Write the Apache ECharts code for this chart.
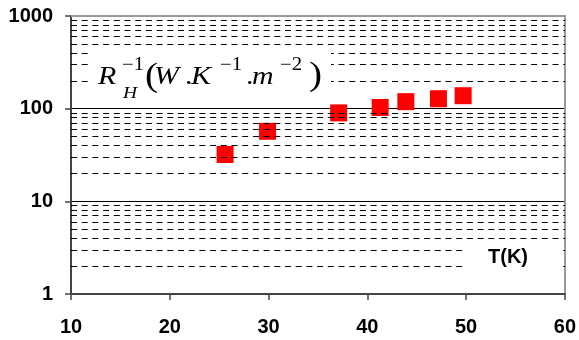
<!DOCTYPE html>
<html>
<head>
<meta charset="utf-8">
<script src="https://cdn.jsdelivr.net/npm/echarts@6/dist/echarts.min.js"></script>
<style>
html, body { margin: 0; padding: 0; background: #fff; }
#chart { width: 579px; height: 340px; }
</style>
</head>
<body>
<div id="chart"></div>
<script>
// data
var temps = [25.6, 29.9, 37.1, 41.3, 43.9, 47.2, 49.7];
var invR = [32, 57, 90, 103, 119, 128, 138];
var yTicks = ['1', '10', '100', '1000'];
var xTicks = ['10', '20', '30', '40', '50', '60'];
var minorVals = [2, 3, 4, 5, 6, 7, 8, 9, 20, 30, 40, 50, 60, 70, 80, 90, 200, 300, 400, 500, 600, 700, 800, 900];

var myChart = echarts.init(document.getElementById('chart'));

var sansB = '"Liberation Sans", Arial, sans-serif';
var serif = '"Times New Roman", "Liberation Serif", serif';

// pieces of the unit label: text, left x, baseline y, size, italic
var eq = [
    ['R', 98, 86, 26, true],
    ['\u22121', 122, 71, 18, false],
    ['H', 123, 99, 17, true],
    ['(', 145, 89, 34, false],
    ['W', 154, 86, 26, true],
    ['.', 185, 86, 26, false],
    ['K', 191, 86, 26, true],
    ['\u22121', 220, 71, 18, false],
    ['.', 246, 86, 26, false],
    ['m', 252, 86, 26, true],
    ['\u22122', 280, 71, 18, false],
    [')', 309, 88, 34, false]
];

var graphics = [
    { type: 'rect', z: 100, shape: { x: 92, y: 47, width: 239, height: 57 }, style: { fill: '#fff' } },
    { type: 'rect', z: 100, shape: { x: 463, y: 243, width: 98, height: 30 }, style: { fill: '#fff' } },
    { type: 'text', z: 101, x: 508, y: 257,
      style: { text: 'T(K)', font: 'bold 20px ' + sansB, fill: '#000', align: 'center', verticalAlign: 'middle' } }
];
eq.forEach(function (p) {
    graphics.push({
        type: 'text', z: 101, x: p[1], y: p[2] - 0.3375 * p[3], scaleX: 1.15,
        style: {
            text: p[0],
            font: (p[4] ? 'italic ' : '') + p[3] + 'px ' + serif,
            fill: '#000', align: 'left', verticalAlign: 'middle'
        }
    });
});

var option = {
    animation: false,
    grid: { left: 71, right: 13, top: 16, bottom: 46 },
    xAxis: [{
        type: 'value', min: 10, max: 60, interval: 10,
        axisLine: { lineStyle: { color: '#444', width: 2 } },
        axisTick: { length: 6, lineStyle: { color: '#444', width: 1.5 } },
        axisLabel: {
            margin: 23, color: '#000', fontSize: 20, fontWeight: 'bold', fontFamily: sansB,
            formatter: function (v) { return xTicks[Math.round((v - 10) / 10)]; }
        },
        splitLine: { show: false }
    }, {
        type: 'value', min: 10, max: 60, position: 'top',
        axisLine: { show: true, lineStyle: { color: '#999', width: 2 } },
        axisTick: { show: false }, axisLabel: { show: false }, splitLine: { show: false }
    }],
    yAxis: [{
        type: 'log', logBase: 10, min: 1, max: 1000,
        axisLine: { lineStyle: { color: '#444', width: 2 } },
        axisTick: { show: true, length: 6, lineStyle: { color: '#444', width: 1.5 } },
        axisLabel: {
            margin: 18, color: '#000', fontSize: 20, fontWeight: 'bold', fontFamily: sansB,
            formatter: function (v) { return yTicks[Math.round(Math.log10(v))]; }
        },
        splitLine: { show: true, showMinLine: false, showMaxLine: false, lineStyle: { color: '#000', width: 1 } }
    }, {
        type: 'log', logBase: 10, min: 1, max: 1000, position: 'right',
        axisLine: { show: true, lineStyle: { color: '#999', width: 2 } },
        axisTick: { show: false }, axisLabel: { show: false }, splitLine: { show: false }
    }],
    series: [{
        type: 'line', z: 1, data: [], silent: true,
        markLine: {
            silent: true, symbol: ['none', 'none'], label: { show: false },
            lineStyle: { type: [6, 4.7], color: '#000', width: 1 },
            emphasis: { disabled: true },
            data: minorVals.map(function (v) { return { yAxis: v }; })
        }
    }, {
        type: 'scatter', z: 3,
        symbol: 'rect', symbolSize: 17,
        itemStyle: { color: '#ff0000', opacity: 1 },
        data: temps.map(function (t, i) { return [t, invR[i]]; })
    }],
    graphic: graphics
};
myChart.setOption(option);

window.onresize = function () { myChart.resize(); };
</script>
</body>
</html>
